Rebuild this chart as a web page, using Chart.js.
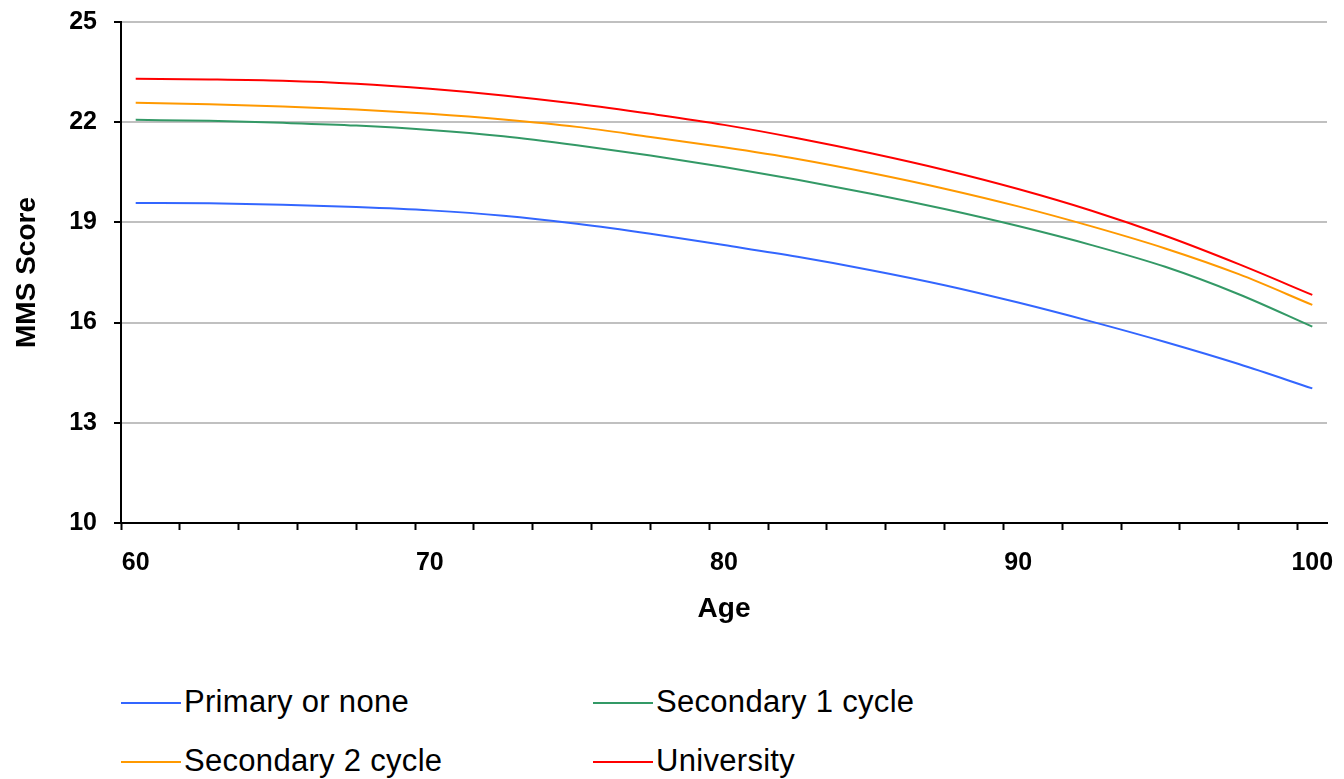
<!DOCTYPE html>
<html>
<head>
<meta charset="utf-8">
<script src="https://cdn.jsdelivr.net/npm/chart.js@4"></script>
<style>
    html, body { margin: 0; padding: 0; background: #fff; }
    #wrap { position: relative; width: 1344px; height: 779px; overflow: hidden; }
    #chartBox { position: absolute; left: 0; top: 0; width: 1344px; height: 650px; }
    .legend-item { position: absolute; font-family: "Liberation Sans", Arial, sans-serif; font-size: 31px; letter-spacing: 0.3px; color: #000; white-space: nowrap; }
    .legend-item span.swatch { display: inline-block; width: 60px; height: 2px; vertical-align: middle; margin-right: 3px; position: relative; top: -1px; }
</style>
</head>
<body>
<div id="wrap">
    <div id="chartBox"><canvas id="mmsChart"></canvas></div>
    <div id="legend"></div>
</div>
<script>
// MMS score by age and education level

// Data
const ages = [60, 62.5, 65, 67.5, 70, 72.5, 75, 77.5, 80, 82.5, 85, 87.5, 90, 92.5, 95, 97.5, 100];
const primaryOrNone = [19.58, 19.57, 19.53, 19.46, 19.36, 19.2, 18.96, 18.66, 18.32, 17.97, 17.57, 17.12, 16.6, 16.03, 15.42, 14.76, 14.03];
const secondary1 = [22.07, 22.04, 21.98, 21.9, 21.77, 21.58, 21.31, 21.0, 20.66, 20.28, 19.86, 19.4, 18.89, 18.32, 17.67, 16.85, 15.88];
const secondary2 = [22.58, 22.54, 22.47, 22.38, 22.25, 22.08, 21.86, 21.56, 21.25, 20.9, 20.48, 20.01, 19.48, 18.88, 18.22, 17.45, 16.53];
const university = [23.3, 23.28, 23.24, 23.15, 23.0, 22.8, 22.55, 22.25, 21.92, 21.52, 21.07, 20.57, 20.0, 19.35, 18.6, 17.75, 16.83];

const seriesNames = ['Primary or none', 'Secondary 1 cycle', 'Secondary 2 cycle', 'University'];
const seriesColors = ['#3366ff', '#339966', '#ff9900', '#ff0000'];

// Axis ticks
const xLabelTicks = [60, 70, 80, 90, 100];
const xMarkTicks = [59.5, 61.5, 63.5, 65.5, 67.5, 69.5, 71.5, 73.5, 75.5, 77.5, 79.5,
                    81.5, 83.5, 85.5, 87.5, 89.5, 91.5, 93.5, 95.5, 97.5, 99.5];
const yTicks = [10, 13, 16, 19, 22, 25];

const FONT = '"Liberation Sans", Arial, sans-serif';

function toPoints(values) {
    return ages.map((a, i) => ({ x: a, y: values[i] }));
}

const allSeries = [primaryOrNone, secondary1, secondary2, university];

const datasets = allSeries.map((vals, i) => ({
    label: seriesNames[i],
    data: toPoints(vals),
    borderColor: seriesColors[i],
    backgroundColor: seriesColors[i],
    borderWidth: 2,
    pointRadius: 0,
    cubicInterpolationMode: 'monotone',
    fill: false
}));

const ctx = document.getElementById('mmsChart');

new Chart(ctx, {
    type: 'line',
    data: { datasets: datasets },
    options: {
        responsive: true,
        maintainAspectRatio: false,
        animation: false,
        layout: {
            padding: { top: 22, right: 17, left: 0, bottom: 0 }
        },
        plugins: {
            legend: { display: false },
            tooltip: { enabled: false }
        },
        scales: {
            x: {
                type: 'linear',
                min: 59.5,
                max: 100.5,
                afterBuildTicks: scale => {
                    const all = xMarkTicks.concat(xLabelTicks).sort((a, b) => a - b);
                    scale.ticks = all.map(v => ({ value: v }));
                },
                afterFit: scale => {
                    scale.height = 127;
                    scale.paddingLeft = 0;
                    scale.paddingRight = 0;
                },
                ticks: {
                    autoSkip: false,
                    maxRotation: 0,
                    padding: 18,
                    color: '#000',
                    font: { family: FONT, size: 25, weight: 'bold' },
                    callback: value => (xLabelTicks.includes(value) ? String(value) : '')
                },
                grid: {
                    drawOnChartArea: false,
                    drawTicks: true,
                    tickLength: 7,
                    tickWidth: 2,
                    tickColor: c => (c.tick && xLabelTicks.includes(c.tick.value)) ? 'rgba(0,0,0,0)' : '#000'
                },
                border: { display: true, color: '#000', width: 2 },
                title: {
                    display: true,
                    text: 'Age',
                    color: '#000',
                    font: { family: FONT, size: 28, weight: 'bold' },
                    padding: { top: 0, bottom: 24 }
                }
            },
            y: {
                min: 10,
                max: 25,
                afterBuildTicks: scale => {
                    scale.ticks = yTicks.map(v => ({ value: v }));
                },
                afterFit: scale => {
                    scale.width = 121;
                    scale.paddingTop = 0;
                    scale.paddingBottom = 0;
                },
                ticks: {
                    padding: 17,
                    color: '#000',
                    font: { family: FONT, size: 25, weight: 'bold' }
                },
                grid: {
                    color: '#c0c0c0',
                    lineWidth: 2,
                    drawTicks: true,
                    tickLength: 7,
                    tickWidth: 2,
                    tickColor: '#000'
                },
                border: { display: true, color: '#000', width: 2 },
                title: {
                    display: true,
                    text: 'MMS Score',
                    color: '#000',
                    font: { family: FONT, size: 28, weight: 'bold' },
                    padding: { top: 10, bottom: 0 }
                }
            }
        }
    }
});

// Legend in two columns below the chart
const legendPos = [
    { left: 121, top: 684 },
    { left: 593, top: 684 },
    { left: 121, top: 743 },
    { left: 593, top: 743 }
];
const legendEl = document.getElementById('legend');
seriesNames.forEach((name, k) => {
    const item = document.createElement('div');
    item.className = 'legend-item';
    item.style.left = legendPos[k].left + 'px';
    item.style.top = legendPos[k].top + 'px';
    item.innerHTML = `<span class="swatch" style="background:${seriesColors[k]}"></span>${name}`;
    legendEl.appendChild(item);
});
</script>
</body>
</html>
